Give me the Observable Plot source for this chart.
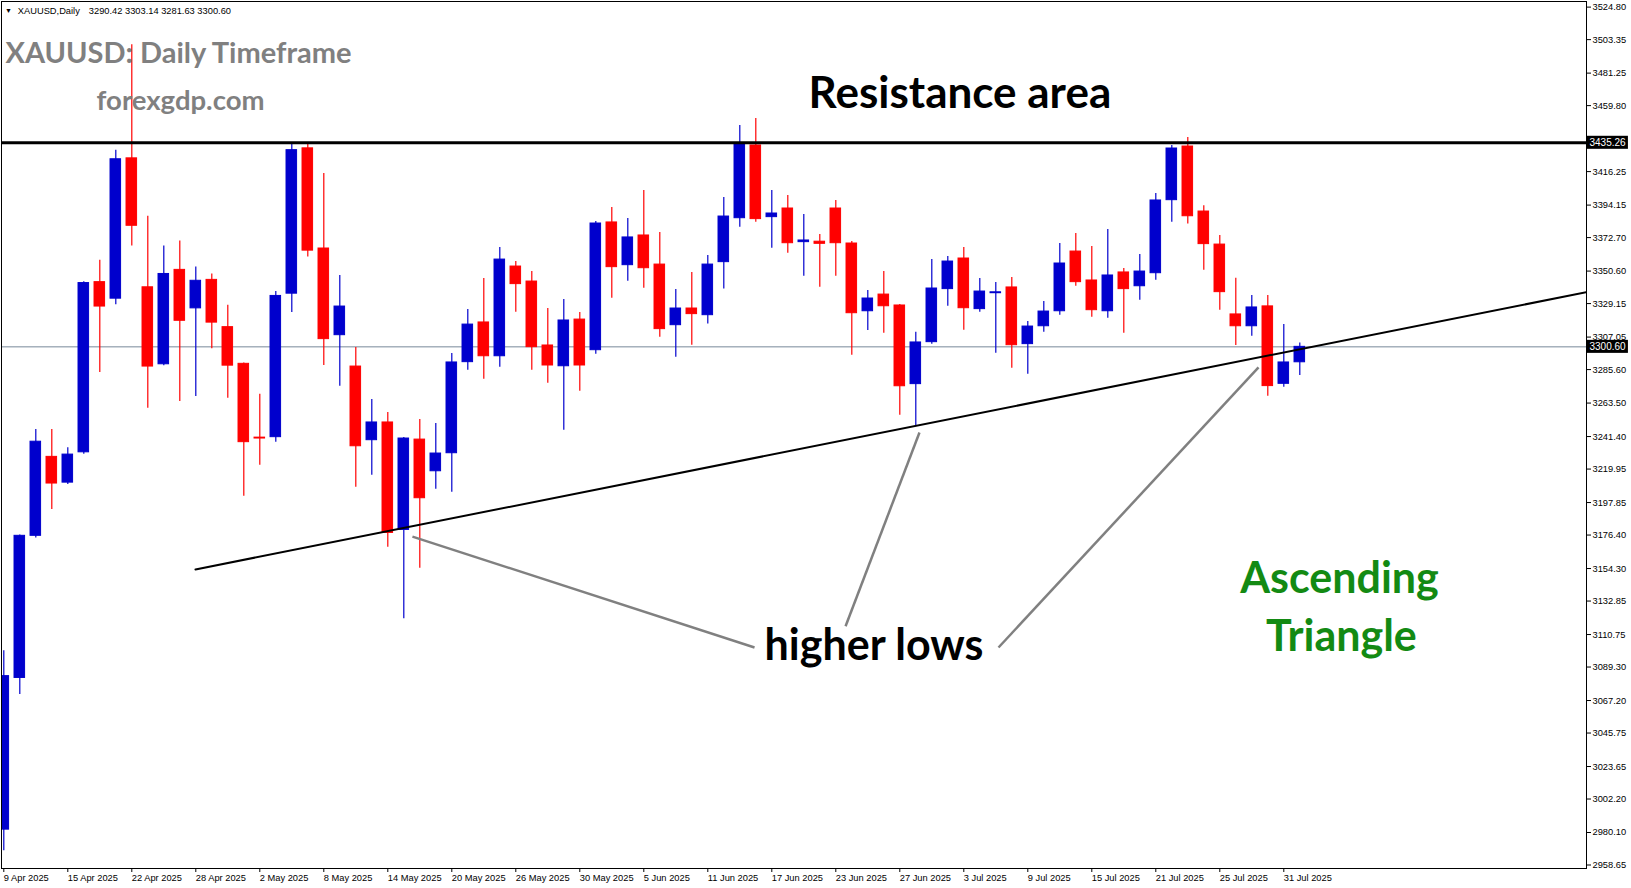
<!DOCTYPE html>
<html>
<head>
<meta charset="utf-8">
<script src="https://cdn.jsdelivr.net/npm/d3@7"></script>
<script src="https://cdn.jsdelivr.net/npm/@observablehq/plot@0.6"></script>
<style>
html, body { margin: 0; padding: 0; background: #fff; }
#chart svg { display: block; }
</style>
</head>
<body>
<div id="chart"></div>
<script>
// ---- Data (XAUUSD daily, 9 Apr 2025 .. 1 Aug 2025), one value per bar ----
const open = [2982.0,3082.1,3175.9,3228.0,3211.0,3231.0,3343.3,3332.4,3425.0,3339.9,
  3289.1,3351.4,3326.0,3344.8,3313.6,3289.4,3240.7,3241.0,3335.7,3431.6,
  3365.5,3308.3,3287.6,3239.0,3250.7,3179.8,3239.4,3218.5,3230.4,3290.5,
  3316.7,3294.4,3353.6,3343.7,3301.5,3287.8,3318.6,3298.4,3382.7,3354.5,
  3374.1,3354.9,3314.9,3325.9,3321.5,3356.5,3385.5,3433.5,3386.2,3391.9,
  3369.7,3370.0,3391.9,3368.8,3324.1,3335.1,3327.9,3276.0,3303.7,3338.7,
  3358.9,3325.5,3336.0,3339.8,3302.4,3314.2,3324.1,3363.5,3344.4,3324.1,
  3349.7,3340.6,3349.2,3397.4,3432.8,3389.9,3368.1,3322.0,3314.2,3327.3,
  3276.2,3290.42];
const high = [3100.0,3176.5,3246.1,3246.1,3234.0,3343.5,3357.8,3430.4,3500.0,3386.8,
  3367.2,3370.5,3353.3,3348.7,3328.1,3290.0,3269.4,3337.2,3434.3,3435.0,
  3415.0,3347.7,3300.2,3265.8,3257.3,3240.8,3252.6,3250.0,3296.2,3325.2,
  3345.7,3366.2,3356.9,3350.3,3325.9,3331.8,3323.3,3383.3,3392.6,3385.3,
  3403.8,3376.1,3338.4,3349.7,3360.9,3399.2,3446.7,3451.3,3403.8,3400.5,
  3387.9,3374.7,3397.2,3370.1,3337.8,3350.3,3328.5,3310.3,3358.2,3360.2,
  3366.2,3345.7,3343.1,3346.4,3317.3,3330.5,3368.8,3375.4,3366.8,3378.0,
  3352.3,3361.5,3401.8,3433.5,3438.8,3393.7,3374.1,3345.9,3334.5,3334.5,
  3315.4,3303.14];
const low = [2968.0,3071.2,3174.5,3193.2,3209.8,3229.8,3283.7,3328.4,3367.2,3260.1,
  3288.2,3264.6,3267.9,3299.4,3266.7,3202.0,3222.5,3237.7,3323.3,3359.9,
  3288.3,3274.6,3208.0,3215.9,3168.4,3121.1,3154.5,3206.7,3204.7,3285.2,
  3279.3,3287.2,3323.5,3285.2,3276.6,3245.6,3271.3,3295.8,3332.7,3343.9,
  3339.3,3307.0,3293.8,3301.7,3315.6,3338.7,3379.6,3382.9,3365.7,3362.4,
  3347.2,3340.0,3347.2,3295.1,3311.4,3309.6,3255.5,3248.7,3302.4,3327.4,
  3311.6,3323.5,3296.4,3286.5,3282.6,3310.3,3321.5,3340.6,3320.2,3319.5,
  3309.6,3331.4,3344.6,3382.9,3381.6,3351.2,3324.8,3301.5,3307.6,3268.0,
  3274.0,3281.63];
const close = [3083.3,3175.9,3238.0,3210.4,3229.5,3342.7,3327.2,3424.4,3380.5,3287.6,
  3348.7,3317.8,3344.2,3316.6,3288.2,3237.7,3240.1,3334.2,3430.4,3364.1,
  3305.7,3327.2,3235.0,3250.7,3177.8,3240.1,3200.7,3230.2,3290.3,3315.3,
  3294.4,3358.2,3342.0,3300.4,3288.3,3318.0,3288.3,3382.0,3353.2,3372.8,
  3352.5,3312.3,3325.9,3322.2,3354.9,3386.6,3434.6,3384.9,3388.6,3369.0,
  3370.8,3368.6,3369.0,3322.8,3332.5,3327.4,3274.6,3303.5,3339.1,3356.9,
  3326.1,3337.1,3336.6,3301.7,3314.0,3323.9,3355.6,3343.3,3324.8,3347.7,
  3338.7,3350.3,3397.2,3431.5,3386.8,3368.4,3336.7,3314.2,3326.6,3274.7,
  3290.3,3300.60];

const dateLabels = ["9 Apr 2025","15 Apr 2025","22 Apr 2025","28 Apr 2025","2 May 2025",
  "8 May 2025","14 May 2025","20 May 2025","26 May 2025","30 May 2025","5 Jun 2025",
  "11 Jun 2025","17 Jun 2025","23 Jun 2025","27 Jun 2025","3 Jul 2025","9 Jul 2025",
  "15 Jul 2025","21 Jul 2025","25 Jul 2025","31 Jul 2025"];
const dateBars = dateLabels.map((_, k) => k * 4);

// (the 3437.70 level is hidden behind the 3435.26 price box in the reference)
const priceTicks = [3524.80,3503.35,3481.25,3459.80,3416.25,3394.15,3372.70,
  3350.60,3329.15,3307.05,3285.60,3263.50,3241.40,3219.95,3197.85,3176.40,3154.30,
  3132.85,3110.75,3089.30,3067.20,3045.75,3023.65,3002.20,2980.10,2958.65];

const resistance = 3435.26;
const lastPrice = 3300.60;
const headerOHLC = "3290.42 3303.14 3281.63 3300.60";

// trend line (bar index, price) and pointer lines
const trendBars = [11.98, 98.92];
const trendPrices = [3153.7, 3336.7];
const pointerFrom = [[25.54, 3175.4], [57.23, 3244.1], [78.42, 3287.0]];
const pointerTo   = [[46.92, 3102.2], [52.61, 3116.2], [62.17, 3102.2]];

// ---- Build tables ----
const BLUE = "#0000cd", RED = "#ff0000";
const candles = open.map((o, i) => ({
  i, o, h: high[i], l: low[i], c: close[i],
  col: close[i] >= o ? BLUE : RED
}));
const trend = trendBars.map((b, k) => ({bar: b, price: trendPrices[k]}));
const pointers = pointerFrom.map((f, k) => ({x1: f[0], y1: f[1], x2: pointerTo[k][0], y2: pointerTo[k][1]}));
const boxes = [{p: resistance, t: resistance.toFixed(2)}, {p: lastPrice, t: lastPrice.toFixed(2)}];

const xDomain = [-0.14375, 98.91875];
const yDomain = [2956.35, 3528.51];
const big = {fontFamily: "Lato", fontWeight: "bold"};

const chart = Plot.plot({
  width: 1631,
  height: 888,
  marginLeft: 1,
  marginTop: 1,
  marginRight: 45,
  marginBottom: 20,
  x: {type: "linear", domain: xDomain},
  y: {type: "linear", domain: yDomain},
  color: {type: "identity"},
  style: {fontFamily: "'Liberation Sans', Arial, sans-serif", background: "#ffffff", color: "#000000"},
  marks: [
    Plot.ruleY([lastPrice], {stroke: "#778899", strokeWidth: 1}),
    Plot.ruleX(candles, {x: "i", y1: "l", y2: "h", stroke: "col", strokeWidth: 1.2, clip: true}),
    Plot.rect(candles, {x1: d => d.i - 0.33, x2: d => d.i + 0.33, y1: "o", y2: "c",
      fill: "col", stroke: "col", strokeWidth: 1, clip: true}),
    Plot.ruleY([resistance], {stroke: "#000", strokeWidth: 3}),
    Plot.line(trend, {x: "bar", y: "price", stroke: "#000", strokeWidth: 2, clip: true}),
    Plot.link(pointers, {x1: "x1", y1: "y1", x2: "x2", y2: "y2", stroke: "#808080", strokeWidth: 2.5}),
    Plot.frame({stroke: "#000"}),
    Plot.axisY({anchor: "right", ticks: priceTicks, tickFormat: d => d.toFixed(2),
      tickSize: 4, tickPadding: 2, fontSize: 9.3, label: null}),
    Plot.axisX({anchor: "bottom", ticks: dateBars, tickFormat: d => dateLabels[d / 4],
      tickSize: 4, tickPadding: 2, textAnchor: "start", dx: 0, fontSize: 9.3, label: null}),
    Plot.rect(boxes, {x1: xDomain[1], x2: xDomain[1] + 2.62, y1: d => d.p - 4.3, y2: d => d.p + 4.3, fill: "#000"}),
    Plot.text(boxes, {x: xDomain[1], y: "p", text: "t", fill: "#fff", textAnchor: "start", dx: 3, fontSize: 10}),
    // header
    Plot.text(["\u25BC"], {frameAnchor: "top-left", dx: 7, dy: 9.5, fontSize: 7, textAnchor: "middle", lineAnchor: "middle"}),
    Plot.text(["XAUUSD,Daily"], {frameAnchor: "top-left", dx: 16.3, dy: 9.5, fontSize: 9.3, textAnchor: "start", lineAnchor: "middle"}),
    Plot.text([headerOHLC], {frameAnchor: "top-left", dx: 87.3, dy: 9.5, fontSize: 9.3, textAnchor: "start", lineAnchor: "middle"}),
    // annotations
    Plot.text(["XAUUSD: Daily Timeframe"], {x: 0.106, y: 3487.6, textAnchor: "start", lineAnchor: "bottom", fontSize: 29, fill: "#808080", ...big}),
    Plot.text(["forexgdp.com"], {x: 5.8, y: 3456.6, textAnchor: "start", lineAnchor: "bottom", fontSize: 27.5, fill: "#808080", ...big}),
    Plot.text(["Resistance area"], {x: 50.3, y: 3457.9, textAnchor: "start", lineAnchor: "bottom", fontSize: 44, fill: "#000", ...big}),
    Plot.text(["higher lows"], {x: 47.55, y: 3094.0, textAnchor: "start", lineAnchor: "bottom", fontSize: 43, fill: "#000", ...big}),
    Plot.text(["Ascending"], {x: 83.48, y: 3137.9, textAnchor: "middle", lineAnchor: "bottom", fontSize: 43, fill: "#138a13", ...big}),
    Plot.text(["Triangle"], {x: 83.6, y: 3099.6, textAnchor: "middle", lineAnchor: "bottom", fontSize: 43, fill: "#138a13", ...big})
  ]
});
document.getElementById("chart").appendChild(chart);
</script>
</body>
</html>
